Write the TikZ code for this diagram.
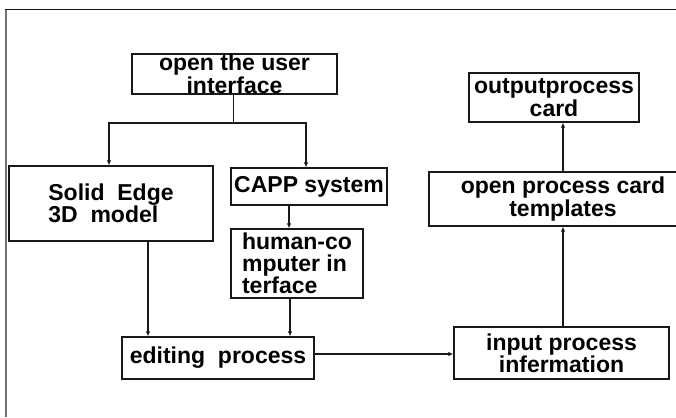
\documentclass[tikz,border=0pt]{standalone}
\usepackage{fontspec}
\setmainfont{Liberation Sans}
\usepackage{tikz}
\usetikzlibrary{arrows.meta, positioning, calc}
\definecolor{cLine}{RGB}{25, 25, 25}
\definecolor{cFrame}{RGB}{115, 115, 115}
\tikzstyle{Box}=[rectangle,
		draw=cLine,
		line width=1.3pt,
		inner sep=0pt,
		align=center,
		font=\bfseries\fontsize{23}{19}\selectfont]
\tikzstyle{arrow}=[-{Latex[length=5pt,width=4.5pt]},
		line width=1.1pt,
		draw=cLine]

\begin{document}
\begin{tikzpicture}[x=1pt,y=1pt]
  \useasboundingbox (0,0) rectangle (676,417);

  % page frame
  \draw [cFrame,line width=2pt] (6,0) -- (6,408);
  \draw [cLine,line width=1.2pt] (5,407.5) -- (676,407.5);

  % left branch
  \node [Box,minimum width=205,minimum height=40] (open) at (234.5,343) {open the user\\interface};
  \node [Box,align=left,minimum width=204,minimum height=75] (solid) at (111,213.5) {Solid~~Edge\\3D~~model};
  \node [Box,minimum width=156,minimum height=37] (capp) at (309,230.5) {CAPP system};
  \node [Box,align=left,minimum width=132,minimum height=69,
         font=\bfseries\fontsize{23}{21.8}\selectfont] (human) at (297,153.5) {human-co\\mputer in\\terface};
  \node [Box,minimum width=192,minimum height=42] (edit) at (218,59) {editing~~process};

  % right branch
  \node [Box,minimum width=215,minimum height=52] (input) at (561.5,64) {input process\\infermation};
  \node [Box,minimum width=268,minimum height=54] (templ) at (563,218) {open process card\\templates};
  \node [Box,minimum width=170,minimum height=49] (output) at (554,319.5) {outputprocess\\card};

  % fork below the user interface
  \coordinate (fork) at (233.5,294);
  \draw [cLine,line width=1.1pt] (open.south -| fork) -- (fork);
  \draw [arrow] (fork) -| ([xshift=-2pt]solid.north);
  \draw [arrow] (fork) -| ([xshift=-3pt]capp.north);

  \draw [arrow] ([xshift=-20pt]capp.south) -- ([xshift=-20pt]capp.south |- human.north);
  \draw [arrow] ([xshift=37pt]solid.south) -- ([xshift=37pt]solid.south |- edit.north);
  \draw [arrow] ([xshift=-7pt]human.south) -- ([xshift=-7pt]human.south |- edit.north);

  \draw [arrow] ([yshift=-1pt]input.west -| edit.east) -- ([yshift=-1pt]input.west);
  \draw [arrow] ([xshift=1.5pt]input.north) -- ([xshift=1.5pt]input.north |- templ.south);
  \draw [arrow] (templ.north) -- (templ.north |- output.south);

\end{tikzpicture}
\end{document}
